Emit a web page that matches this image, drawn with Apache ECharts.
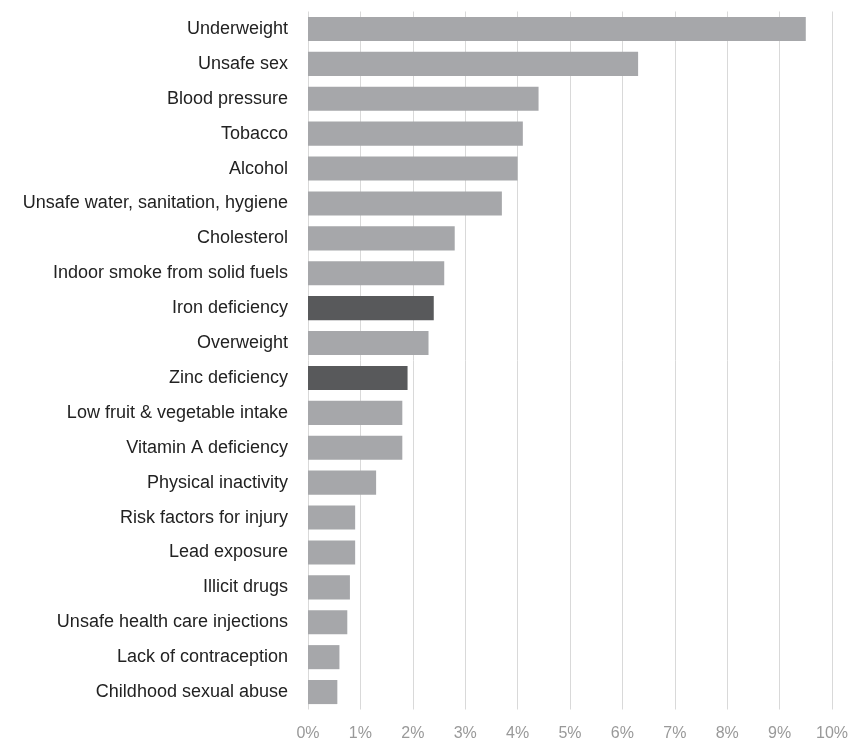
<!DOCTYPE html>
<html>
<head>
<meta charset="utf-8">
<script src="https://cdn.jsdelivr.net/npm/echarts@6/dist/echarts.min.js"></script>
<style>html,body{margin:0;padding:0;background:#fff}#c{width:851px;height:743px}</style>
</head>
<body>
<div id="c"></div>
<script>
const categories = ["Underweight","Unsafe sex","Blood pressure","Tobacco","Alcohol","Unsafe water, sanitation, hygiene","Cholesterol","Indoor smoke from solid fuels","Iron deficiency","Overweight","Zinc deficiency","Low fruit & vegetable intake","Vitamin A deficiency","Physical inactivity","Risk factors for injury","Lead exposure","Illicit drugs","Unsafe health care injections","Lack of contraception","Childhood sexual abuse"];
const values = [9.5,6.3,4.4,4.1,4.0,3.7,2.8,2.6,2.4,2.3,1.9,1.8,1.8,1.3,0.9,0.9,0.8,0.75,0.6,0.56];
const highlighted = ["Iron deficiency","Zinc deficiency"];
const xTicks = [0,1,2,3,4,5,6,7,8,9,10];

const chart = echarts.init(document.getElementById('c'), null, {renderer:'canvas'});
chart.setOption({
  animation:false,
  backgroundColor:'#ffffff',
  grid:{left:308,right:19,top:11.5,bottom:33.5,containLabel:false},
  xAxis:{
    type:'value',min:xTicks[0],max:xTicks[xTicks.length-1],interval:1,
    axisLine:{show:false},axisTick:{show:false},
    axisLabel:{formatter:v=>v+'%',color:'#999999',fontSize:16,fontFamily:'Liberation Sans, Arial, sans-serif',margin:16},
    splitLine:{show:true,lineStyle:{color:'#d9d9d9',width:1}}
  },
  yAxis:{
    type:'category',data:categories,inverse:true,
    axisLine:{show:false},axisTick:{show:false},
    axisLabel:{color:'#222222',fontSize:18,fontFamily:'Liberation Sans, Arial, sans-serif',margin:20}
  },
  series:[{
    type:'bar',
    barCategoryGap:'31%',
    data:values.map((v,i)=>({value:v,itemStyle:{color:highlighted.includes(categories[i])?'#58595b':'#a6a7aa'}}))
  }]
});
</script>
</body>
</html>
